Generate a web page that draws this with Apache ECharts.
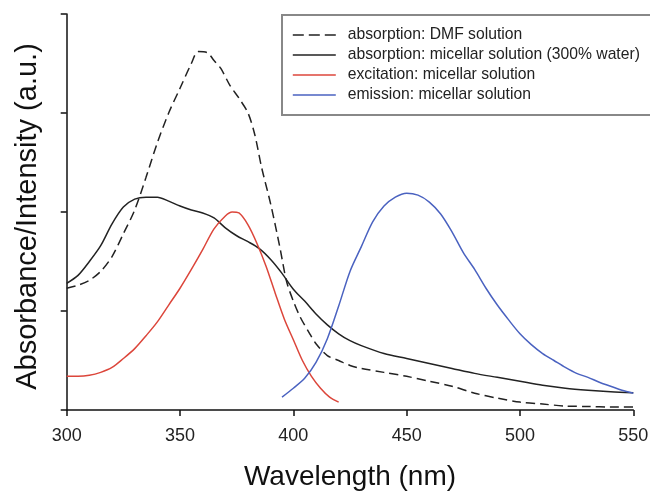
<!DOCTYPE html>
<html>
<head>
<meta charset="utf-8">
<script src="https://cdn.jsdelivr.net/npm/echarts@6/dist/echarts.min.js"></script>
<style>html,body{margin:0;padding:0;background:#fff;overflow:hidden}#c{width:650px;height:492px}</style>
</head>
<body>
<div id="c"></div>
<script>
const xTicks = [300, 350, 400, 450, 500, 550];
const seriesNames = [
  'absorption: DMF solution',
  'absorption: micellar solution (300% water)',
  'excitation: micellar solution',
  'emission: micellar solution'
];
const dmfX = [300,305,310,315,320,325,330,335,340,345,350,355,358,362,365,368,372,376,380,383,386,390,394,397,400,403,407,410,415,420,425,430,440,450,460,470,480,490,500,510,520,530,540,550];
const dmfY = [1.23,1.26,1.31,1.40,1.55,1.78,2.02,2.35,2.70,3.00,3.25,3.50,3.62,3.61,3.53,3.45,3.28,3.15,3.00,2.78,2.45,2.08,1.65,1.30,1.10,0.94,0.78,0.67,0.55,0.50,0.45,0.42,0.38,0.34,0.29,0.24,0.17,0.12,0.08,0.06,0.04,0.035,0.03,0.03];
const micX = [300,305,310,315,320,325,330,335,340,345,350,355,360,365,370,375,380,385,390,395,400,405,410,415,420,425,430,440,450,460,470,480,490,500,510,520,530,540,550];
const micY = [1.28,1.36,1.50,1.66,1.88,2.05,2.13,2.15,2.15,2.11,2.06,2.02,1.99,1.94,1.84,1.76,1.70,1.63,1.52,1.38,1.22,1.10,0.97,0.86,0.77,0.70,0.65,0.57,0.52,0.47,0.42,0.37,0.33,0.29,0.25,0.22,0.20,0.185,0.175];
const excX = [300,305,310,315,320,325,330,335,340,345,350,355,360,365,370,373,376,380,384,388,392,396,400,404,408,412,416,420];
const excY = [0.34,0.34,0.35,0.38,0.43,0.52,0.62,0.75,0.89,1.06,1.23,1.42,1.62,1.83,1.96,2.00,1.99,1.87,1.68,1.45,1.18,0.92,0.71,0.50,0.34,0.22,0.13,0.08];
const emX = [395,400,405,410,415,420,425,430,435,440,445,450,455,460,465,470,475,480,485,490,495,500,505,510,515,520,525,530,535,540,545,550];
const emY = [0.13,0.22,0.32,0.48,0.72,1.05,1.40,1.65,1.90,2.06,2.15,2.19,2.17,2.10,1.98,1.80,1.59,1.42,1.23,1.06,0.91,0.77,0.66,0.57,0.50,0.43,0.37,0.33,0.28,0.24,0.20,0.17];

const pair = (xs, ys) => xs.map((x, i) => [x, ys[i]]);
const FONT = 'Liberation Sans, Arial, sans-serif';
const colors = ['#222222', '#222222', '#dc463b', '#4a62c0'];

const chart = echarts.init(document.getElementById('c'), null, {renderer: 'canvas'});
chart.setOption({
  animation: false,
  backgroundColor: '#fff',
  grid: {left: 66.7, right: 16.7, top: 14, bottom: 82, containLabel: false, outerBoundsMode: 'none'},
  legend: {
    orient: 'vertical',
    left: 282, top: 15,
    padding: [12, 40, 12, 10],
    itemWidth: 43, itemHeight: 14, itemGap: 4,
    borderColor: '#888', borderWidth: 2,
    backgroundColor: '#fff',
    itemStyle: {opacity: 0},
    textStyle: {fontFamily: FONT, fontSize: 15.7, color: '#222', padding: [0, 0, 0, 7]},
    data: [
      {name: seriesNames[0], lineStyle: {type: [11, 5], width: 1.6}},
      {name: seriesNames[1], lineStyle: {width: 1.6}},
      {name: seriesNames[2], lineStyle: {width: 1.6}},
      {name: seriesNames[3], lineStyle: {width: 1.6}}
    ]
  },
  xAxis: {
    type: 'value', min: 300, max: 550, interval: 50,
    name: 'Wavelength (nm)', nameLocation: 'middle', nameGap: 53,
    nameTextStyle: {fontFamily: FONT, fontSize: 28, color: '#111'},
    axisLine: {show: true, lineStyle: {color: '#111', width: 1.5}},
    axisTick: {show: true, inside: false, length: 6, lineStyle: {color: '#111', width: 1.5}},
    axisLabel: {fontFamily: FONT, fontSize: 18, color: '#222', margin: 17,
      formatter: v => xTicks.includes(v) ? String(v) : ''},
    splitLine: {show: false}
  },
  yAxis: {
    type: 'value', min: 0, max: 4, interval: 1,
    name: 'Absorbance/Intensity (a.u.)', nameLocation: 'middle', nameGap: 24,
    nameTextStyle: {fontFamily: FONT, fontSize: 29, color: '#111', padding: [0, 9, 0, 0]},
    axisLine: {show: true, lineStyle: {color: '#111', width: 1.5}},
    axisTick: {show: true, inside: false, length: 6, lineStyle: {color: '#111', width: 1.5}},
    axisLabel: {show: false},
    splitLine: {show: false}
  },
  series: [
    {name: seriesNames[0], type: 'line', data: pair(dmfX, dmfY), showSymbol: false, symbol: 'none', smooth: 0.3,
     lineStyle: {color: colors[0], width: 1.5, type: [9, 5]}, itemStyle: {color: colors[0]}},
    {name: seriesNames[1], type: 'line', data: pair(micX, micY), showSymbol: false, symbol: 'none', smooth: 0.3,
     lineStyle: {color: colors[1], width: 1.5}, itemStyle: {color: colors[1]}},
    {name: seriesNames[2], type: 'line', data: pair(excX, excY), showSymbol: false, symbol: 'none', smooth: 0.3,
     lineStyle: {color: colors[2], width: 1.5}, itemStyle: {color: colors[2]}},
    {name: seriesNames[3], type: 'line', data: pair(emX, emY), showSymbol: false, symbol: 'none', smooth: 0.3,
     lineStyle: {color: colors[3], width: 1.5}, itemStyle: {color: colors[3]}}
  ]
});
</script>
</body>
</html>
